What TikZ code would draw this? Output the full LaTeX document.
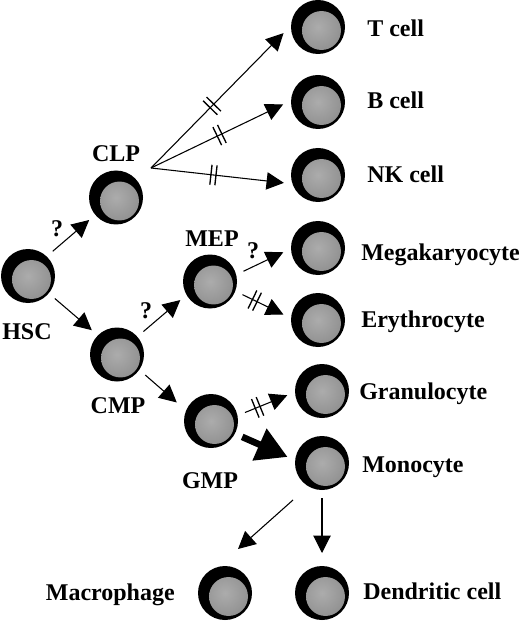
\documentclass[tikz,border=0pt]{standalone}
\usepackage{fontspec}
\setmainfont{Liberation Serif}
\usepackage{xcolor}
\usetikzlibrary{arrows.meta, decorations.markings}
\definecolor{nucleus}{RGB}{172,172,172}
\definecolor{nucleusrim}{RGB}{142,142,142}
\tikzset{
  >=latex,
  % Cellule
  cell/.style={circle,fill=black,minimum size=40.5pt,inner sep=0,outer sep=6pt,
    path picture={\shade[inner color=nucleus,outer color=nucleusrim]
      ([shift={(3.5,3.5)}]path picture bounding box.center) circle (14.6pt);}},
  % Connessioni
  connect arrow/.style={-{Triangle[length=13pt,width=13pt]},line width=0.8pt},
  connect fat/.style={-{Triangle[length=23pt,width=25pt]},line width=5pt},
  % Etichette
  label text/.style={font=\bfseries\fontsize{18}{20}\selectfont,inner sep=0,anchor=base},
  label right/.style={label text,anchor=base west},
  % Doppia barra
  bars/.style={postaction={draw=none,-,decorate,decoration={markings,mark=at position #1 with {
    \draw[line width=1pt] (-1.9pt,-7.5pt) -- (-1.9pt,7.5pt);
    \draw[line width=1pt] (1.9pt,-7.5pt) -- (1.9pt,7.5pt);}}}}
}
\begin{document}
\begin{tikzpicture}[x=0.75pt,y=-0.75pt]
  \useasboundingbox (0,0) rectangle (520,623);
  % Cellule
  \node[cell] (HSC) at (28,276) {};
  \node[cell] (CLP) at (116,197.5) {};
  \node[cell] (CMP) at (117,354.5) {};
  \node[cell] (MEP) at (210,281.5) {};
  \node[cell] (GMP) at (211,421) {};
  \node[cell] (Tc) at (318,27) {};
  \node[cell] (Bc) at (318,102) {};
  \node[cell] (NKc) at (318,175) {};
  \node[cell] (Mega) at (318,248) {};
  \node[cell] (Ery) at (318,320) {};
  \node[cell] (Gran) at (322,391) {};
  \node[cell] (Mono) at (322,463) {};
  \node[cell] (Macro) at (225,593) {};
  \node[cell] (Dend) at (322,593) {};
  \coordinate (fan) at (151,168);
  \coordinate (macro out) at (293,500);
  \coordinate (macro in) at (238,549);
  % Etichette
  \node[label text] (lHSC) at (27,339) {HSC};
  \node[label text] (lCLP) at (116,162) {CLP};
  \node[label text] (lCMP) at (118,413) {CMP};
  \node[label text] (lMEP) at (212,247) {MEP};
  \node[label text] (lGMP) at (210,488) {GMP};
  \node[label text] (q1) at (57,237) {?};
  \node[label text] (q2) at (146,318) {?};
  \node[label text] (q3) at (253,258) {?};
  \node[label right] (lT) at (367,37) {T cell};
  \node[label right] (lB) at (367,109) {B cell};
  \node[label right] (lNK) at (367,183) {NK cell};
  \node[label right] (lMega) at (361,260.5) {Megakaryocyte};
  \node[label right] (lEry) at (361,327) {Erythrocyte};
  \node[label right] (lGran) at (359,399) {Granulocyte};
  \node[label right] (lMono) at (362,472) {Monocyte};
  \node[label text,anchor=base east] (lMacro) at (175,600) {Macrophage};
  \node[label right] (lDend) at (363,599) {Dendritic cell};
  % Connessioni
  \draw[connect arrow] (HSC.45) -- (CLP.220);
  \draw[connect arrow] (HSC.-40) -- (CMP.136);
  \draw[connect arrow] (CMP.41) -- (MEP.212);
  \draw[connect arrow,shorten >=3pt] (CMP.-36) -- (GMP.153);
  \draw[connect arrow,bars=.46] (fan) -- (Tc.190);
  \draw[connect arrow,bars=.52] (fan) -- (Bc.184);
  \draw[connect arrow,bars=.47] (fan) -- (NKc.193);
  \draw[connect arrow] (MEP.17) -- (Mega.187);
  \draw[connect arrow,bars=.3] (MEP.-22) -- (Ery.171);
  \draw[connect arrow,bars=.3] (GMP.14) -- (Gran.187);
  \draw[connect fat] (GMP.-27) -- (Mono.170);
  \draw[connect arrow] (macro out) -- (macro in);
  \draw[connect arrow,shorten >=3.75pt] (Mono.-90) -- (Dend.90);
\end{tikzpicture}
\end{document}
